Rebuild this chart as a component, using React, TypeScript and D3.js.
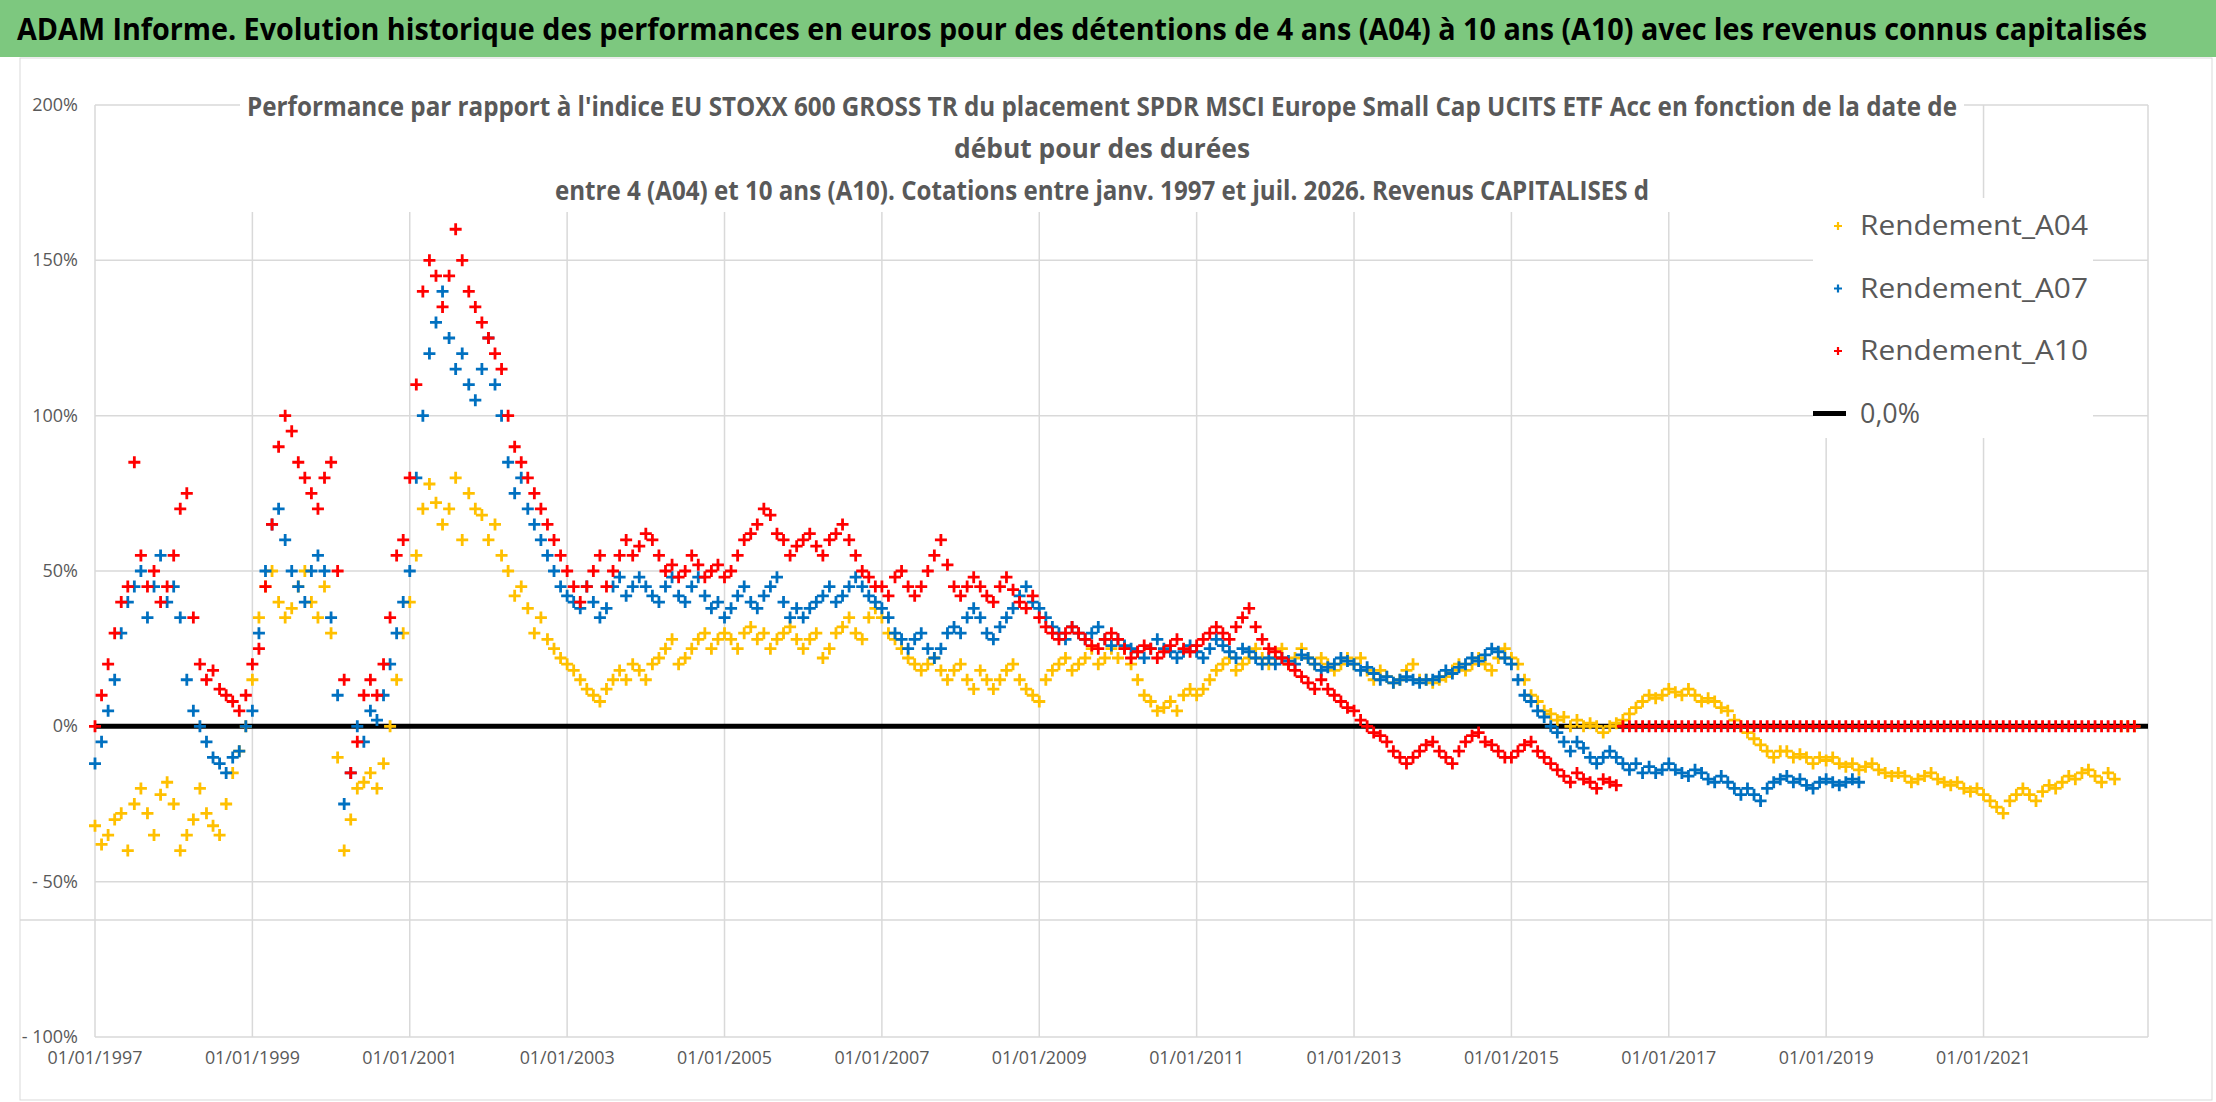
import { useEffect, useRef } from "react";
import * as d3 from "d3";

// monthly readings, start January 1997
const a04Values = [
  -32, -38, -35, -30, -28, -40, -25, -20, -28, -35, -22, -18,
  -25, -40, -35, -30, -20, -28, -32, -35, -25, -15, -8, 0,
  15, 35, 45, 50, 40, 35, 38, 45, 50, 40, 35, 45,
  30, -10, -40, -30, -20, -18, -15, -20, -12, 0, 15, 30,
  40, 55, 70, 78, 72, 65, 70, 80, 60, 75, 70, 68,
  60, 65, 55, 50, 42, 45, 38, 30, 35, 28, 25, 22,
  20, 18, 15, 12, 10, 8, 12, 15, 18, 15, 20, 18,
  15, 20, 22, 25, 28, 20, 22, 25, 28, 30, 25, 28,
  30, 28, 25, 30, 32, 28, 30, 25, 28, 30, 32, 28,
  25, 28, 30, 22, 25, 30, 32, 35, 30, 28, 35, 38,
  35, 30, 28, 25, 22, 20, 18, 20, 22, 18, 15, 18,
  20, 15, 12, 18, 15, 12, 15, 18, 20, 15, 12, 10,
  8, 15, 18, 20, 22, 18, 20, 22, 25, 20, 22, 25,
  22, 25, 20, 15, 10, 8, 5, 6, 8, 5, 10, 12,
  10, 12, 15, 18, 20, 22, 18, 20, 22, 25, 22, 20,
  22, 25, 20, 22, 25, 22, 20, 22, 20, 18, 20, 22,
  20, 22, 18, 15, 18, 16, 14, 15, 18, 20, 15, 15,
  14, 15, 16, 18, 20, 18, 20, 22, 20, 18, 22, 25,
  22, 20, 15, 10, 8, 5, 4, 2, 3, 0, 2, 0,
  1, 0, -2, 0, 1, 2, 4, 6, 8, 10, 9, 10,
  12, 11, 10, 12, 10, 8, 9, 8, 6, 5, 2, 0,
  -2, -4, -6, -8, -10, -8, -8, -10, -9, -10, -12, -10,
  -11, -10, -12, -13, -12, -14, -13, -12, -14, -15, -16, -15,
  -16, -18, -17, -16, -15, -17, -18, -19, -18, -20, -21, -20,
  -22, -24, -26, -28, -24, -22, -20, -22, -24, -21, -19, -20,
  -18, -16, -17, -15, -14, -16, -18, -15, -17, 0, 0, 0,
];

const a07Values = [
  -12, -5, 5, 15, 30, 40, 45, 50, 35, 45, 55, 40,
  45, 35, 15, 5, 0, -5, -10, -12, -15, -10, -8, 0,
  5, 30, 50, 65, 70, 60, 50, 45, 40, 50, 55, 50,
  35, 10, -25, -15, 0, -5, 5, 2, 10, 20, 30, 40,
  50, 80, 100, 120, 130, 140, 125, 115, 120, 110, 105, 115,
  125, 110, 100, 85, 75, 80, 70, 65, 60, 55, 50, 45,
  42, 40, 38, 45, 40, 35, 38, 45, 48, 42, 45, 48,
  45, 42, 40, 45, 48, 42, 40, 45, 48, 42, 38, 40,
  35, 38, 42, 45, 40, 38, 42, 45, 48, 40, 35, 38,
  35, 38, 40, 42, 45, 40, 42, 45, 48, 45, 42, 40,
  38, 35, 30, 28, 25, 28, 30, 25, 22, 25, 30, 32,
  30, 35, 38, 35, 30, 28, 32, 35, 38, 42, 45, 40,
  38, 35, 32, 30, 28, 32, 30, 28, 30, 32, 28, 26,
  28, 26, 25, 24, 22, 25, 28, 25, 24, 22, 24, 26,
  24, 22, 25, 28, 26, 24, 22, 25, 24, 22, 20, 22,
  20, 22, 21, 20, 23, 22, 20, 18, 19, 20, 22, 21,
  20, 18, 19, 17, 15, 16, 14, 15, 16, 15, 14, 15,
  15, 16, 18, 17, 19, 20, 22, 21, 23, 25, 24, 22,
  20, 15, 10, 8, 5, 3, 0, -2, -5, -8, -5, -7,
  -10, -12, -10, -8, -10, -12, -14, -12, -15, -13, -15, -14,
  -12, -14, -15, -16, -14, -15, -17, -18, -16, -18, -20, -22,
  -20, -22, -24, -20, -18, -17, -16, -18, -17, -19, -20, -18,
  -17, -18, -19, -18, -17, -18,
];

const a10Values = [
  0, 10, 20, 30, 40, 45, 85, 55, 45, 50, 40, 45,
  55, 70, 75, 35, 20, 15, 18, 12, 10, 8, 5, 10,
  20, 25, 45, 65, 90, 100, 95, 85, 80, 75, 70, 80,
  85, 50, 15, -15, -5, 10, 15, 10, 20, 35, 55, 60,
  80, 110, 140, 150, 145, 135, 145, 160, 150, 140, 135, 130,
  125, 120, 115, 100, 90, 85, 80, 75, 70, 65, 60, 55,
  50, 45, 40, 45, 50, 55, 45, 50, 55, 60, 55, 58,
  62, 60, 55, 50, 52, 48, 50, 55, 52, 48, 50, 52,
  48, 50, 55, 60, 62, 65, 70, 68, 62, 60, 55, 58,
  60, 62, 58, 55, 60, 62, 65, 60, 55, 50, 48, 45,
  45, 42, 48, 50, 45, 42, 45, 50, 55, 60, 52, 45,
  42, 45, 48, 45, 42, 40, 45, 48, 44, 40, 38, 42,
  35, 32, 30, 28, 30, 32, 30, 28, 26, 25, 28, 30,
  28, 25, 22, 24, 26, 25, 22, 24, 26, 28, 25, 24,
  26, 28, 30, 32, 30, 28, 32, 35, 38, 32, 28, 25,
  24, 22, 20, 18, 16, 14, 12, 15, 12, 10, 8, 6,
  5, 2, 0, -2, -3, -5, -8, -10, -12, -10, -8, -6,
  -5, -8, -10, -12, -8, -5, -3, -2, -5, -6, -8, -10,
  -10, -8, -6, -5, -8, -10, -12, -14, -16, -18, -15, -17,
  -18, -20, -17, -18, -19, 0, 0, 0, 0, 0, 0, 0,
  0, 0, 0, 0, 0, 0, 0, 0, 0, 0, 0, 0,
  0, 0, 0, 0, 0, 0, 0, 0, 0, 0, 0, 0,
  0, 0, 0, 0, 0, 0, 0, 0, 0, 0, 0, 0,
  0, 0, 0, 0, 0, 0, 0, 0, 0, 0, 0, 0,
  0, 0, 0, 0, 0, 0, 0, 0, 0, 0, 0, 0,
  0, 0, 0, 0, 0, 0, 0, 0, 0, 0, 0, 0,
];

const startYear = 1997;
const xTickYears = [1997, 1999, 2001, 2003, 2005, 2007, 2009, 2011, 2013, 2015, 2017, 2019, 2021];
const yTicks = [200, 150, 100, 50, 0, -50, -100];
const yTickLabels = ["200%", "150%", "100%", "50%", "0%", "- 50%", "- 100%"];

const series = [
  { name: "Rendement_A04", values: a04Values, color: "#FFC000" },
  { name: "Rendement_A07", values: a07Values, color: "#0070C0" },
  { name: "Rendement_A10", values: a10Values, color: "#FF0000" },
];

const W = 2216;
const H = 1102;
const font = "'Liberation Sans Narrow', 'Open Sans', sans-serif";
const grey = "#595959";

export default function App() {
  const svgRef = useRef<SVGSVGElement | null>(null);

  useEffect(() => {
    if (!svgRef.current) return;
    const svg = d3.select(svgRef.current);
    svg.selectAll("*").remove();

    const x = d3.scaleLinear().domain([1997, 2023.09]).range([95, 2148]);
    const y = d3.scaleLinear().domain([-100, 200]).range([1037, 105]);

    svg.append("rect").attr("width", W).attr("height", H).attr("fill", "#fff");
    svg.append("rect").attr("x", 20).attr("y", 58).attr("width", 2192).attr("height", 1042)
      .attr("fill", "#fff").attr("stroke", "#d9d9d9");

    // banner
    svg.append("rect").attr("x", 0).attr("y", 0).attr("width", W).attr("height", 57).attr("fill", "#7DC87F");
    svg.append("text").attr("x", 17).attr("y", 40).attr("font-family", font).attr("font-weight", 700)
      .attr("font-size", 31).attr("fill", "#000").attr("textLength", 2130).attr("lengthAdjust", "spacingAndGlyphs")
      .text("ADAM Informe. Evolution historique des performances en euros pour des détentions de 4 ans (A04) à 10 ans (A10) avec les revenus connus capitalisés");

    // grid
    const grid = svg.append("g").attr("stroke", "#d9d9d9").attr("stroke-width", 1.5);
    yTicks.forEach((t) => grid.append("line").attr("x1", x(1997)).attr("x2", 2148).attr("y1", y(t)).attr("y2", y(t)));
    xTickYears.forEach((t) => grid.append("line").attr("x1", x(t)).attr("x2", x(t)).attr("y1", y(200)).attr("y2", y(-100)));
    grid.append("line").attr("x1", 2148).attr("x2", 2148).attr("y1", y(200)).attr("y2", y(-100));
    grid.append("line").attr("x1", 20).attr("x2", 2212).attr("y1", 920).attr("y2", 920);

    // title box
    svg.append("rect").attr("x", 240).attr("y", 86).attr("width", 1724).attr("height", 126).attr("fill", "#fff");
    const sub = [
      { t: "Performance par rapport à l'indice EU STOXX 600 GROSS TR  du placement SPDR MSCI Europe Small Cap UCITS ETF Acc en fonction de la date de", y: 116, w: 1710 },
      { t: "début pour des durées", y: 158, w: 296 },
      { t: "entre 4 (A04) et 10 ans (A10). Cotations entre janv. 1997 et juil. 2026. Revenus CAPITALISES d", y: 200, w: 1094 },
    ];
    sub.forEach((s) =>
      svg.append("text").attr("x", 1102).attr("y", s.y).attr("text-anchor", "middle").attr("font-family", font)
        .attr("font-weight", 700).attr("font-size", 26).attr("fill", grey)
        .attr("textLength", s.w).attr("lengthAdjust", "spacingAndGlyphs").text(s.t));

    // axis labels
    yTicks.forEach((t, i) =>
      svg.append("text").attr("x", 78).attr("y", y(t) + 6).attr("text-anchor", "end").attr("font-family", font)
        .attr("font-size", 18).attr("fill", grey).text(yTickLabels[i]));
    xTickYears.forEach((t) =>
      svg.append("text").attr("x", x(t)).attr("y", 1064).attr("text-anchor", "middle").attr("font-family", font)
        .attr("font-size", 18).attr("fill", grey).attr("textLength", 95).attr("lengthAdjust", "spacingAndGlyphs")
        .text(`01/01/${t}`));

    // zero line
    svg.append("line").attr("x1", x(1997)).attr("x2", 2148).attr("y1", y(0)).attr("y2", y(0))
      .attr("stroke", "#000").attr("stroke-width", 5);

    const plus = "M-6,0H6M0,-6V6";
    series.forEach((s) => {
      svg.append("g").selectAll("path").data(s.values).enter().append("path")
        .attr("d", plus)
        .attr("transform", (v, i) => `translate(${x(startYear + i / 12)},${y(v)})`)
        .attr("stroke", s.color).attr("stroke-width", 2.8).attr("fill", "none");
    });

    // legend
    svg.append("rect").attr("x", 1813).attr("y", 198).attr("width", 280).attr("height", 240).attr("fill", "#fff");
    const lg = [...series.map((s) => ({ name: s.name, color: s.color, line: false })), { name: "0,0%", color: "#000", line: true }];
    lg.forEach((l, i) => {
      const ly = 226 + i * 62.5;
      if (l.line) {
        svg.append("line").attr("x1", 1813).attr("x2", 1846).attr("y1", ly).attr("y2", ly).attr("stroke", "#000").attr("stroke-width", 5);
      } else {
        svg.append("path").attr("d", "M-4,0H4M0,-4V4").attr("transform", `translate(1838,${ly})`)
          .attr("stroke", l.color).attr("stroke-width", 2.2);
      }
      svg.append("text").attr("x", 1860).attr("y", ly + 9).attr("font-family", font).attr("font-size", 27)
        .attr("fill", grey).attr("textLength", l.line ? 60 : 228).attr("lengthAdjust", "spacingAndGlyphs").text(l.name);
    });
  }, []);

  return (
    <div style={{ position: "absolute", left: 0, top: 0 }}>
      <svg ref={svgRef} width={W} height={H} style={{ display: "block" }} />
    </div>
  );
}
